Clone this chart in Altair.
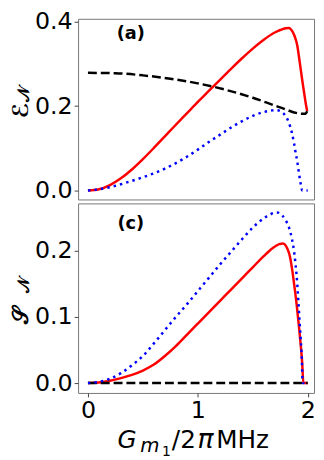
import altair as alt
import pandas as pd

# ---------------- data ----------------
# panel (a): E_N
a_red_x = [0, 0.1, 0.2, 0.3, 0.4, 0.5, 0.6, 0.7, 0.8, 0.9, 1.0, 1.1, 1.2, 1.3, 1.4, 1.5, 1.6, 1.7, 1.75, 1.8,
           1.83, 1.85, 1.875, 1.89, 1.905, 1.92, 1.935, 1.95, 1.965, 1.98, 1.995]
a_red_y = [0, 0.003, 0.013, 0.029, 0.050, 0.0745, 0.101, 0.1285, 0.156, 0.183, 0.210, 0.236, 0.262, 0.288, 0.313,
           0.3365, 0.3575, 0.3745, 0.3805, 0.3845, 0.385, 0.381, 0.370, 0.359, 0.344, 0.318, 0.290, 0.262, 0.236,
           0.210, 0.188]
a_black_x = [0, 0.25, 0.5, 0.75, 1.0, 1.25, 1.5, 1.75, 1.95, 1.98, 1.995]
a_black_y = [0.279, 0.278, 0.273, 0.265, 0.254, 0.239, 0.220, 0.197, 0.182, 0.182, 0.188]
a_blue_x = [0, 0.1, 0.2, 0.3, 0.4, 0.5, 0.6, 0.7, 0.8, 0.9, 1.0, 1.1, 1.2, 1.3, 1.4, 1.5, 1.6, 1.68, 1.72, 1.76,
            1.8, 1.83, 1.855, 1.875, 1.89, 1.905, 1.92, 1.935, 1.95, 2.0]
a_blue_y = [0, 0.003, 0.008, 0.015, 0.023, 0.0315, 0.041, 0.052, 0.065, 0.080, 0.097, 0.115, 0.132, 0.149, 0.164,
            0.177, 0.186, 0.190, 0.1905, 0.187, 0.176, 0.160, 0.138, 0.113, 0.090, 0.069, 0.042, 0.018, 0.0, 0.0]

# panel (c): S_N
c_red_x = [0, 0.1, 0.2, 0.3, 0.4, 0.5, 0.6, 0.7, 0.8, 0.9, 1.0, 1.1, 1.2, 1.3, 1.4, 1.5, 1.6, 1.68, 1.74, 1.775,
           1.815, 1.84, 1.86, 1.88, 1.9, 1.92, 1.935, 1.95, 1.96, 2.0]
c_red_y = [0, 0.001, 0.0035, 0.0075, 0.0125, 0.019, 0.028, 0.041, 0.056, 0.073, 0.090, 0.107, 0.124, 0.141, 0.158,
           0.175, 0.192, 0.204, 0.210, 0.211, 0.203, 0.190, 0.170, 0.145, 0.118, 0.086, 0.060, 0.030, 0.0, 0.0]
c_black_x = [0, 2.0]
c_black_y = [0, 0]
c_blue_x = [0, 0.1, 0.2, 0.3, 0.4, 0.5, 0.6, 0.7, 0.8, 0.9, 1.0, 1.1, 1.2, 1.3, 1.4, 1.5, 1.6, 1.67, 1.72, 1.77,
            1.8, 1.83, 1.855, 1.875, 1.89, 1.905, 1.915, 1.925, 1.935, 1.944, 1.955, 2.0]
c_blue_y = [0, 0.002, 0.0065, 0.015, 0.027, 0.041, 0.060, 0.080, 0.100, 0.119, 0.139, 0.159, 0.179, 0.198, 0.217,
            0.235, 0.249, 0.256, 0.258, 0.253, 0.246, 0.235, 0.219, 0.200, 0.178, 0.150, 0.124, 0.096, 0.070,
            0.046, 0.0, 0.0]

x_ticks = [0, 1, 2]
a_ticks = [0.0, 0.2, 0.4]
c_ticks = [0.0, 0.1, 0.2]
panel_labels = ["(a)", "(c)"]

# ---------------- layout ----------------
W = 239
H_TOP = 183
H_BOT = 192
FONT = "DejaVu Sans"
X_SCALE = alt.Scale(domain=[-0.0898, 2.0575], nice=False, zero=False)
A_SCALE = alt.Scale(domain=[-0.0211, 0.4070], nice=False, zero=False)
C_SCALE = alt.Scale(domain=[-0.0149, 0.2716], nice=False, zero=False)
TICK_COLOR = "#444"


def yaxis(vals):
    return alt.Axis(values=vals, format=".1f", labelFontSize=24, labelFont=FONT,
                    tickSize=4, tickColor=TICK_COLOR, labelPadding=2, domain=False,
                    grid=False, title=None, labelFlush=False, labelColor="black")


XAXIS = alt.Axis(values=x_ticks, format="d", labelFontSize=24, labelFont=FONT,
                 tickSize=4, tickColor=TICK_COLOR, labelPadding=2, domain=False,
                 grid=False, title=None, labelFlush=False, labelColor="black")


def line(xs, ys, color, dash, width, yscale, xaxis, yax):
    df = pd.DataFrame({"x": xs, "y": ys})
    kw = dict(color=color, strokeWidth=width, interpolate="monotone")
    if dash:
        kw["strokeDash"] = dash
    return alt.Chart(df).mark_line(**kw).encode(
        x=alt.X("x:Q", scale=X_SCALE, axis=xaxis),
        y=alt.Y("y:Q", scale=yscale, axis=yax),
    )


def txt(s, x, y, size, style="normal", weight="normal", angle=0, font=FONT):
    kw = dict(align="left", baseline="alphabetic", fontSize=size, font=font,
              fontStyle=style, fontWeight=weight, color="black")
    if angle:
        kw["angle"] = angle
    return alt.Chart(pd.DataFrame({"k": [0]})).mark_text(**kw).encode(
        x=alt.value(x), y=alt.value(y), text=alt.value(s))


def panel_label(s, xv, yv, yscale):
    df = pd.DataFrame({"x": [xv], "y": [yv], "t": [s]})
    return alt.Chart(df).mark_text(fontSize=18, fontWeight="bold", font=FONT,
                                   color="black", align="center",
                                   baseline="middle").encode(
        x=alt.X("x:Q", scale=X_SCALE), y=alt.Y("y:Q", scale=yscale), text="t:N")


# invisible anchor that fixes the top-left corner of the whole drawing
anchor = alt.Chart(pd.DataFrame({"k": [0]})).mark_rect(opacity=0).encode(
    x=alt.value(-90), x2=alt.value(-89), y=alt.value(-15), y2=alt.value(-14))

top = alt.layer(
    anchor,
    line(a_red_x, a_red_y, "#ff0000", None, 2.5, A_SCALE, None, yaxis(a_ticks)),
    line(a_black_x, a_black_y, "black", [9, 4], 2.5, A_SCALE, None, yaxis(a_ticks)),
    line(a_blue_x, a_blue_y, "#0000ff", [2.5, 4.1], 2.5, A_SCALE, None, yaxis(a_ticks)),
    panel_label(panel_labels[0], 0.39, 0.372, A_SCALE),
    txt("ℰ", -51, 101, 22, weight="bold", angle=270),
    txt("𝒩", -50, 84, 16, weight="bold", angle=270),
).properties(width=W, height=H_TOP)

bottom = alt.layer(
    line(c_red_x, c_red_y, "#ff0000", None, 2.5, C_SCALE, XAXIS, yaxis(c_ticks)),
    line(c_black_x, c_black_y, "black", [9, 4], 2.5, C_SCALE, XAXIS, yaxis(c_ticks)),
    line(c_blue_x, c_blue_y, "#0000ff", [2.5, 4.1], 2.5, C_SCALE, XAXIS, yaxis(c_ticks)),
    panel_label(panel_labels[1], 0.39, 0.24, C_SCALE),
    txt("𝒮", -51, 122, 22, weight="bold", angle=270),
    txt("𝒩", -50, 91, 16, weight="bold", angle=270),
    txt("G", 40, 248, 25, style="italic"),
    txt("m", 63, 252, 20, style="italic"),
    txt("1", 85, 256, 14),
    txt("/2", 95, 248, 25),
    txt("π", 121, 248, 27, style="italic"),
    txt("MHz", 140, 248, 25),
).properties(width=W, height=H_BOT)

chart = alt.vconcat(top, bottom, spacing=4, bounds="flush").properties(
    padding={"left": -20, "top": -8, "right": 0, "bottom": 0}
).configure_view(stroke="#777", strokeWidth=1)

chart.save("out.html", embed_options={"renderer": "svg", "actions": False})
